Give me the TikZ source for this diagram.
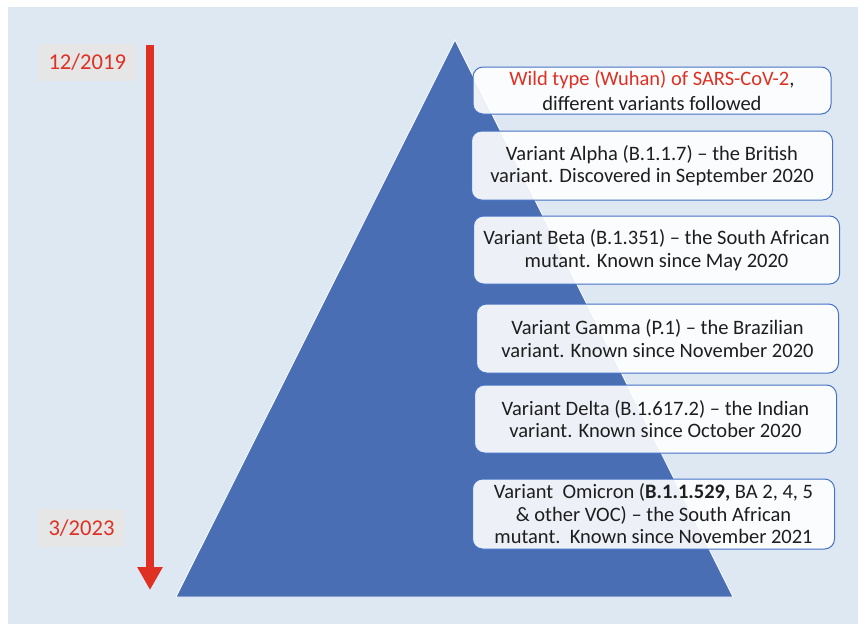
\documentclass[tikz,border=0pt]{standalone}
\usepackage{fontspec}
\setmainfont{Carlito}
\usepackage{xcolor}
\usetikzlibrary{positioning, arrows.meta}

\definecolor{bgblue}{RGB}{222,232,243}
\definecolor{triblue}{RGB}{73,110,180}
\definecolor{boxline}{RGB}{68,114,196}
\definecolor{datered}{RGB}{222,49,36}
\definecolor{dategray}{RGB}{230,230,230}
\definecolor{textgray}{RGB}{30,30,30}

\begin{document}
\begin{tikzpicture}[
    x=1pt, y=-1pt,
    node distance=17pt,
    variant/.style={draw=boxline, line width=1pt, rounded corners=10pt,
                    fill=white, fill opacity=0.9, text opacity=1, text=textgray,
                    minimum width=#1, minimum height=68pt, inner sep=0pt, outer sep=0pt,
                    align=center, font=\fontsize{20.5}{22.5}\selectfont},
    variant/.default=362pt,
    date/.style={fill=dategray, text=datered, minimum height=37pt, inner xsep=10.5pt,
                 outer sep=0pt, font=\fontsize{22.6}{26}\selectfont},
    timeline/.style={draw=datered, line width=8pt, -{Triangle[width=24pt, length=23pt]}}
]

% Background
\useasboundingbox (0,0) rectangle (858,624);
\fill[bgblue] (8,7) rectangle (858,624);

% Pyramid
\filldraw[fill=triblue, draw=white, line width=0.8pt] (455,40) -- (733,597) -- (176,597) -- cycle;

% Timeline
\node[date, anchor=west] (start) at (38,62.5) {12/2019};
\node[date, anchor=west, minimum height=38pt] (end) at (38,528) {3/2023};
\coordinate (timetop) at (150,45);
\coordinate (timebottom) at (150,590);
\draw[timeline] (timetop) -- (timebottom);

% Variants
\node[variant=358pt, minimum height=47pt, font=\fontsize{20.5}{25}\selectfont] (wild) at (652,90.5)
    {\textcolor{datered}{Wild type (Wuhan) of SARS-CoV-2},\\different variants followed};
\node[variant=361pt, minimum height=69pt, below=17pt of wild] (alpha)
    {Variant Alpha (B.1.1.7) -- the British\\variant. Discovered in September 2020};
\node[variant=366pt, below=16pt of alpha, xshift=4.5pt] (beta)
    {Variant Beta (B.1.351) -- the South African\\mutant. Known since May 2020};
\node[variant, minimum height=69pt, below=20pt of beta, xshift=1pt] (gamma)
    {Variant Gamma (P.1) -- the Brazilian\\variant. Known since November 2020};
\node[variant, below=12pt of gamma, xshift=-2pt] (delta)
    {Variant Delta (B.1.617.2) -- the Indian\\variant. Known since October 2020};
\node[variant, minimum height=70pt, below=26pt of delta, xshift=-2pt] (omicron)
    {Variant\ \ Omicron (\textbf{B.1.1.529,} BA 2, 4, 5\\\& other VOC) -- the South African\\mutant.\ \ Known since November 2021};

\end{tikzpicture}
\end{document}
